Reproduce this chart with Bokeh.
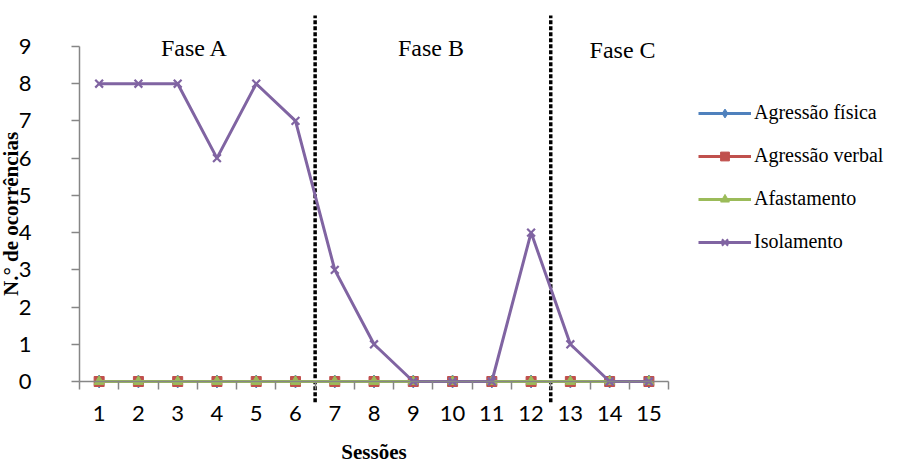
from bokeh.plotting import figure
from bokeh.models import (Range1d, FixedTicker, Legend, LegendItem,
                          ColumnDataSource)
from bokeh.core.properties import value
from bokeh.embed import file_html
from bokeh.resources import INLINE

# ---------------- data ----------------
sessions = list(range(1, 16))
agressao_fisica = [0] * 15
agressao_verbal = [0] * 15
afastamento = [0] * 15
isolamento = [8, 8, 8, 6, 8, 7, 3, 1, 0, 0, 0, 4, 1, 0, 0]

series_names = ["Agressão física", "Agressão verbal", "Afastamento", "Isolamento"]
series_values = [agressao_fisica, agressao_verbal, afastamento, isolamento]
series_colors = ["#4F81BD", "#C0504D", "#9BBB59", "#8064A2"]
series_markers = ["diamond", "square", "triangle", "x"]

phase_names = ["Fase A", "Fase B", "Fase C"]
phase_label_x = [3.43, 9.45, 14.33]
phase_label_y = [8.95, 8.97, 8.9]
phase_boundaries = [6.5, 12.5]
y_ticks = list(range(0, 10))

SERIF = "Liberation Serif"

# ---------------- figure ----------------
# the frame covers the whole canvas; axes are drawn at fixed data locations
p = figure(width=911, height=462, output_backend="svg", toolbar_location=None,
           x_range=Range1d(-1.512, 21.687), y_range=Range1d(-2.176, 10.236),
           min_border_left=0, min_border_right=0, min_border_top=0,
           min_border_bottom=0)
p.outline_line_color = None
p.xgrid.visible = False
p.ygrid.visible = False
p.background_fill_color = "white"
p.border_fill_color = "white"

axis_gray = "#868686"

# x axis (fixed at y=0)
xa = p.xaxis[0]
xa.fixed_location = 0
xa.bounds = (0.5, 15.5)
xa.ticker = FixedTicker(ticks=sessions, minor_ticks=[s - 0.5 for s in sessions] + [15.5])
xa.major_tick_out = 0
xa.major_tick_in = 0
xa.minor_tick_out = 8
xa.minor_tick_in = 0
xa.minor_tick_line_color = axis_gray
xa.minor_tick_line_width = 1.5
xa.axis_line_color = axis_gray
xa.axis_line_width = 1.5
xa.major_label_text_font = "Lato"
xa.major_label_text_font_size = "22px"
xa.major_label_text_color = "black"
xa.major_label_standoff = 16
xa.axis_label = "Sessões"
xa.axis_label_text_font = SERIF
xa.axis_label_text_font_style = "bold"
xa.axis_label_text_font_size = "21px"
xa.axis_label_text_color = "black"
xa.axis_label_standoff = 16

# y axis (fixed at x=0.5)
ya = p.yaxis[0]
ya.fixed_location = 0.5
ya.bounds = (0, 9)
ya.ticker = FixedTicker(ticks=y_ticks)
ya.minor_tick_out = 0
ya.minor_tick_in = 0
ya.major_tick_out = 8
ya.major_tick_in = 0
ya.major_tick_line_color = axis_gray
ya.major_tick_line_width = 1.5
ya.axis_line_color = axis_gray
ya.axis_line_width = 1.5
ya.major_label_text_font = "Lato"
ya.major_label_text_font_size = "22px"
ya.major_label_text_color = "black"
ya.major_label_standoff = 40
ya.axis_label = "N.° de ocorrências"
ya.axis_label_text_font = SERIF
ya.axis_label_text_font_style = "bold"
ya.axis_label_text_font_size = "21px"
ya.axis_label_text_color = "black"
ya.axis_label_standoff = -7

# phase separators (dotted)
for b in phase_boundaries:
    p.segment(x0=[b], y0=[-0.56], x1=[b], y1=[9.83], line_color="black",
              line_width=3.5, line_dash="4 2")

# phase labels
p.text(x=phase_label_x, y=phase_label_y, text=phase_names,
       text_font=value(SERIF), text_font_size="24px", text_align="center",
       text_baseline="middle", text_color="black")

# series
items = []
for name, vals, color, marker in zip(series_names, series_values, series_colors, series_markers):
    src = ColumnDataSource(dict(x=sessions, y=vals))
    lr = p.line("x", "y", source=src, line_color=color, line_width=3)
    if marker == "x":
        sr = p.scatter("x", "y", source=src, marker=marker, size=11,
                       line_color=color, line_width=2.2)
    elif marker == "diamond":
        sr = p.scatter("x", "y", source=src, marker=marker, size=13,
                       fill_color=color, line_color=color)
    else:
        sr = p.scatter("x", "y", source=src, marker=marker, size=10,
                       fill_color=color, line_color=color)
    items.append(LegendItem(label=name, renderers=[lr, sr]))

legend = Legend(items=items, location=(698, 209), padding=0, margin=0,
                spacing=20, glyph_width=53, glyph_height=22, label_height=22,
                label_standoff=3, label_text_font=SERIF,
                label_text_font_size="20px", label_text_color="black",
                border_line_alpha=0, background_fill_alpha=0)
p.add_layout(legend)

open("out.html", "w").write(file_html(p, INLINE))
